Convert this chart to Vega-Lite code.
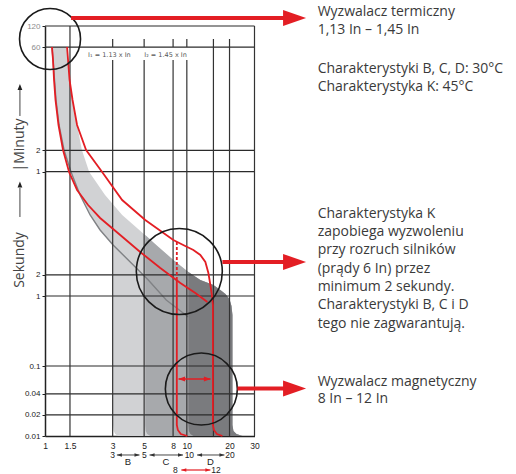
{
  "$schema": "https://vega.github.io/schema/vega-lite/v6.json",
  "width": 471,
  "height": 410,
  "autosize": "none",
  "padding": {"left": 45, "top": 26, "right": 0, "bottom": 38},
  "background": "white",
  "config": {"view": {"stroke": null}, "font": "Open Sans"},
  "datasets": {
    "mass": [
      {"t": 3608, "v": 1.12, "v2": 1.431},
      {"t": 2353, "v": 1.139, "v2": 1.454},
      {"t": 1219, "v": 1.167, "v2": 1.502},
      {"t": 631.2, "v": 1.196, "v2": 1.564},
      {"t": 277.3, "v": 1.256, "v2": 1.683},
      {"t": 121.9, "v": 1.362, "v2": 1.82},
      {"t": 59.1, "v": 1.526, "v2": 2.05},
      {"t": 27.7, "v": 1.767, "v2": 2.65},
      {"t": 14.36, "v": 2.08, "v2": 3.5},
      {"t": 8.77, "v": 2.447, "v2": 4.62},
      {"t": 5.355, "v": 3.02, "v2": 6.08},
      {"t": 3.268, "v": 3.02, "v2": 8.03},
      {"t": 2.203, "v": 3.02, "v2": 10.25},
      {"t": 1.693, "v": 3.02, "v2": 12.45},
      {"t": 1.436, "v": 3.02, "v2": 15.39},
      {"t": 1.219, "v": 3.02, "v2": 17.23},
      {"t": 1.068, "v": 3.02, "v2": 18.71},
      {"t": 0.906, "v": 3.02, "v2": 19.96},
      {"t": 0.72, "v": 3.02, "v2": 20.64},
      {"t": 0.5355, "v": 3.02, "v2": 20.97},
      {"t": 0.01437, "v": 3.02, "v2": 20.97},
      {"t": 0.01179, "v": 3.049, "v2": 21.31},
      {"t": 0.01068, "v": 3.124, "v2": 22.38},
      {"t": 0.01, "v": 3.28, "v2": 24.67}
    ],
    "regC": [
      {"t": 7.44, "v": 5.09, "v2": 5.09},
      {"t": 5.355, "v": 5.09, "v2": 6.08},
      {"t": 3.268, "v": 5.09, "v2": 8.03},
      {"t": 2.203, "v": 5.09, "v2": 10.25},
      {"t": 1.693, "v": 5.09, "v2": 12.45},
      {"t": 1.436, "v": 5.09, "v2": 15.39},
      {"t": 1.219, "v": 5.09, "v2": 17.23},
      {"t": 1.068, "v": 5.09, "v2": 18.71},
      {"t": 0.906, "v": 5.09, "v2": 19.96},
      {"t": 0.72, "v": 5.09, "v2": 20.64},
      {"t": 0.5355, "v": 5.09, "v2": 20.97},
      {"t": 0.01437, "v": 5.09, "v2": 20.97},
      {"t": 0.01179, "v": 5.13, "v2": 21.31},
      {"t": 0.01068, "v": 5.26, "v2": 22.38},
      {"t": 0.01, "v": 5.52, "v2": 24.67}
    ],
    "regD": [
      {"t": 2.203, "v": 10.25, "v2": 10.25},
      {"t": 1.693, "v": 10.25, "v2": 12.45},
      {"t": 1.436, "v": 10.25, "v2": 15.39},
      {"t": 1.219, "v": 10.25, "v2": 17.23},
      {"t": 1.068, "v": 10.25, "v2": 18.71},
      {"t": 0.906, "v": 10.25, "v2": 19.96},
      {"t": 0.72, "v": 10.25, "v2": 20.64},
      {"t": 0.5355, "v": 10.25, "v2": 20.97},
      {"t": 0.01437, "v": 10.25, "v2": 20.97},
      {"t": 0.01179, "v": 10.33, "v2": 21.31},
      {"t": 0.01068, "v": 10.59, "v2": 22.38},
      {"t": 0.01, "v": 11.12, "v2": 24.67}
    ],
    "stroke": [
      {"t": 3608, "v": 1.12}, {"t": 2353, "v": 1.139}, {"t": 1219, "v": 1.167},
      {"t": 631.2, "v": 1.196}, {"t": 277.3, "v": 1.256}, {"t": 121.9, "v": 1.362},
      {"t": 59.1, "v": 1.526}, {"t": 27.7, "v": 1.767}, {"t": 14.36, "v": 2.08},
      {"t": 8.77, "v": 2.447}, {"t": 5.355, "v": 3.02}, {"t": 3.06, "v": 3.99},
      {"t": 1.693, "v": 5.35}, {"t": 0.877, "v": 7.16}, {"t": 0.5012, "v": 10.25}
    ],
    "hgrid": [
      {"t": 7200, "v": 1, "v2": 30}, {"t": 3600, "v": 1, "v2": 30},
      {"t": 120, "v": 1, "v2": 30}, {"t": 60, "v": 1, "v2": 30},
      {"t": 2, "v": 1, "v2": 30}, {"t": 1, "v": 1, "v2": 30},
      {"t": 0.1, "v": 1, "v2": 30}, {"t": 0.04, "v": 1, "v2": 30},
      {"t": 0.02, "v": 1, "v2": 30}
    ],
    "vgrid": [
      {"v": 1.5, "t": 7200, "t2": 0.01},
      {"v": 3, "t": 4694, "t2": 3600}, {"v": 3, "t": 2353, "t2": 0.01},
      {"v": 5, "t": 4694, "t2": 3600}, {"v": 5, "t": 2353, "t2": 0.01},
      {"v": 8, "t": 4694, "t2": 3600}, {"v": 8, "t": 2353, "t2": 0.01},
      {"v": 10, "t": 4694, "t2": 3600}, {"v": 10, "t": 2353, "t2": 0.01},
      {"v": 15.4, "t": 4694, "t2": 0.01},
      {"v": 20, "t": 4694, "t2": 0.01},
      {"v": 30, "t": 7200, "t2": 0.01}
    ],
    "ilabels": [
      {"v": 2.013, "t": 2597, "label": "I₁ = 1.13 x In"},
      {"v": 5.01, "t": 2597, "label": "I₂ = 1.45 x In"}
    ],
    "kLow": [
      {"t": 3608, "v": 1.12}, {"t": 2353, "v": 1.139}, {"t": 1219, "v": 1.158},
      {"t": 631.2, "v": 1.186}, {"t": 277.3, "v": 1.245}, {"t": 121.9, "v": 1.34},
      {"t": 59.1, "v": 1.478}, {"t": 32.7, "v": 1.683}, {"t": 19.96, "v": 2.013},
      {"t": 13.02, "v": 2.447}, {"t": 7.44, "v": 3.39}, {"t": 4.254, "v": 4.69},
      {"t": 2.513, "v": 6.5}, {"t": 1.534, "v": 9.0}, {"t": 1.104, "v": 11.48},
      {"t": 0.821, "v": 13.96}
    ],
    "kUp": [
      {"i": 1, "t": 3608, "v": 1.431}, {"i": 2, "t": 2353, "v": 1.454},
      {"i": 3, "t": 1219, "v": 1.49}, {"i": 4, "t": 631.2, "v": 1.564},
      {"i": 5, "t": 277.3, "v": 1.683}, {"i": 6, "t": 121.9, "v": 1.949},
      {"i": 7, "t": 59.1, "v": 2.528}, {"i": 8, "t": 23.5, "v": 3.5},
      {"i": 9, "t": 12.19, "v": 5.09}, {"i": 10, "t": 6.31, "v": 8.03},
      {"i": 11, "t": 5.18, "v": 9.74}, {"i": 12, "t": 4.544, "v": 11.12},
      {"i": 13, "t": 3.854, "v": 12.45}, {"i": 14, "t": 3.06, "v": 13.51},
      {"i": 15, "t": 2.132, "v": 14.19}, {"i": 16, "t": 1.436, "v": 14.66},
      {"i": 17, "t": 1.034, "v": 15.02}, {"i": 18, "t": 0.744, "v": 15.27},
      {"i": 19, "t": 0.01437, "v": 15.27}, {"i": 20, "t": 0.01219, "v": 15.52},
      {"i": 21, "t": 0.01068, "v": 16.29}, {"i": 22, "t": 0.01, "v": 17.82}
    ],
    "kVert": [
      {"i": 1, "t": 1.693, "v": 8.5}, {"i": 2, "t": 0.01437, "v": 8.5},
      {"i": 3, "t": 0.01219, "v": 8.64}, {"i": 4, "t": 0.01068, "v": 9.07},
      {"i": 5, "t": 0.01, "v": 10.08}
    ],
    "kDash": [{"v": 8.5, "t": 5.91, "t2": 1.693}],
    "connectors": [
      {"v": 1.527, "v2": 48.9, "t": 9367},
      {"v": 17.82, "v2": 48.9, "t": 3.06},
      {"v": 22.75, "v2": 48.9, "t": 0.0477}
    ],
    "bigHeads": [
      {"v": 57.5, "t": 9367, "dir": "R"},
      {"v": 57.5, "t": 3.06, "dir": "R"},
      {"v": 57.5, "t": 0.0477, "dir": "R"}
    ],
    "magArrow": [{"v": 8.75, "v2": 14.66, "t": 0.0652}],
    "magHeads": [
      {"v": 9.19, "t": 0.0652, "dir": "L"},
      {"v": 13.96, "t": 0.0652, "dir": "R"}
    ],
    "notes": [
      {"v": 83.6, "t": 10004, "label": "Wyzwalacz termiczny"},
      {"v": 83.6, "t": 5534, "label": "1,13 In – 1,45 In"},
      {"v": 83.6, "t": 1534, "label": "Charakterystyki B, C, D: 30°C"},
      {"v": 83.6, "t": 848.7, "label": "Charakterystyka K: 45°C"},
      {"v": 83.6, "t": 13.14, "label": "Charakterystyka K"},
      {"v": 83.6, "t": 7.2, "label": "zapobiega wyzwoleniu"},
      {"v": 83.6, "t": 3.917, "label": "przy rozruch silników"},
      {"v": 83.6, "t": 2.132, "label": "(prądy 6 In) przez"},
      {"v": 83.6, "t": 1.179, "label": "minimum 2 sekundy."},
      {"v": 83.6, "t": 0.642, "label": "Charakterystyki B, C i D"},
      {"v": 83.6, "t": 0.349, "label": "tego nie zagwarantują."},
      {"v": 83.6, "t": 0.0518, "label": "Wyzwalacz magnetyczny"},
      {"v": 83.6, "t": 0.0293, "label": "8 In – 12 In"}
    ],
    "rowNums": [
      {"v": 3.0, "t": 0.005355, "label": "3"},
      {"v": 5.01, "t": 0.005355, "label": "5"},
      {"v": 10.42, "t": 0.005355, "label": "10"},
      {"v": 20.13, "t": 0.005355, "label": "20"},
      {"v": 8.29, "t": 0.003268, "label": "8"},
      {"v": 16.03, "t": 0.003268, "label": "12"}
    ],
    "rowLetters": [
      {"v": 3.842, "t": 0.004254, "label": "B"},
      {"v": 7.13, "t": 0.004254, "label": "C"},
      {"v": 14.66, "t": 0.004254, "label": "D"}
    ],
    "rowRules": [
      {"v": 3.212, "v2": 4.638, "t": 0.005355},
      {"v": 5.459, "v2": 9.4, "t": 0.005355},
      {"v": 11.81, "v2": 18.41, "t": 0.005355}
    ],
    "rowHeads": [
      {"v": 3.345, "t": 0.005355, "dir": "L"}, {"v": 4.455, "t": 0.005355, "dir": "R"},
      {"v": 5.686, "t": 0.005355, "dir": "L"}, {"v": 9.026, "t": 0.005355, "dir": "R"},
      {"v": 12.3, "t": 0.005355, "dir": "L"}, {"v": 17.68, "t": 0.005355, "dir": "R"}
    ],
    "redRow": [{"v": 9.15, "v2": 14.66, "t": 0.003268}],
    "redRowHeads": [
      {"v": 9.524, "t": 0.003268, "dir": "L"},
      {"v": 14.07, "t": 0.003268, "dir": "R"}
    ],
    "sideTitles": [
      {"v": 0.6656, "t": 3.268, "label": "Sekundy"},
      {"v": 0.6656, "t": 143.7, "label": "|Minuty"}
    ],
    "sideRules": [
      {"v": 0.6656, "t": 13.45, "t2": 34.9},
      {"v": 0.6656, "t": 372.9, "t2": 877}
    ],
    "sideHeads": [
      {"v": 0.6656, "t": 39.17, "dir": "U"},
      {"v": 0.6656, "t": 967.9, "dir": "U"}
    ]
  },
  "encoding": {
    "x": {
      "field": "v", "type": "quantitative",
      "scale": {"type": "log", "domain": [1, 30], "range": [0, 209.5], "nice": false},
      "axis": {
        "values": [1, 1.5, 3, 5, 8, 10, 20, 30], "title": null, "grid": false, "ticks": false,
        "labelExpr": "format(datum.value, '~g')", "labelFont": "Liberation Sans", "labelFontSize": 8.5,
        "labelColor": "#222", "labelPadding": 5, "labelFlush": false, "labelOverlap": false, "labelBound": false,
        "domainColor": "#222", "domainWidth": 1.5
      }
    },
    "y": {
      "field": "t", "type": "quantitative",
      "scale": {"type": "log", "domain": [0.01, 7200], "nice": false},
      "axis": {
        "values": [7200, 3600, 120, 60, 2, 1, 0.1, 0.04, 0.02, 0.01], "title": null, "grid": false,
        "labelExpr": "datum.value == 7200 ? '120' : datum.value == 3600 ? '60' : datum.value == 120 ? '2' : datum.value == 60 ? '1' : datum.value == 2 ? '2' : datum.value == 1 ? '1' : datum.value == 0.1 ? '0.1' : datum.value == 0.04 ? '0.04' : datum.value == 0.02 ? '0.02' : '0.01'",
        "labelFont": "Liberation Sans", "labelFontSize": 8,
        "labelColor": {"condition": {"test": "datum.value > 1000", "value": "#8c8c8c"}, "value": "#222"},
        "labelOverlap": false, "labelBound": false, "labelPadding": 2,
        "tickSize": 3, "tickColor": "#222", "domainColor": "#222", "domainWidth": 1.5
      }
    }
  },
  "layer": [
    {"data": {"name": "mass"}, "mark": {"type": "area", "orient": "horizontal", "color": "#d1d2d4"}, "encoding": {"x2": {"field": "v2"}}},
    {"data": {"name": "regC"}, "mark": {"type": "area", "orient": "horizontal", "color": "#a7a9ac"}, "encoding": {"x2": {"field": "v2"}}},
    {"data": {"name": "regD"}, "mark": {"type": "area", "orient": "horizontal", "color": "#7a7b7e"}, "encoding": {"x2": {"field": "v2"}}},
    {"data": {"name": "stroke"}, "mark": {"type": "line", "color": "#808285", "strokeWidth": 1.4}, "encoding": {}},
    {"data": {"name": "hgrid"}, "mark": {"type": "rule", "color": "#2b2b2b", "strokeWidth": 1.2}, "encoding": {"x2": {"field": "v2"}}},
    {"data": {"name": "vgrid"}, "mark": {"type": "rule", "color": "#333333", "strokeWidth": 1.2}, "encoding": {"y2": {"field": "t2"}}},
    {"data": {"name": "ilabels"}, "mark": {"type": "text", "align": "left", "baseline": "alphabetic", "font": "DejaVu Sans", "fontSize": 6.5, "color": "#555555"}, "encoding": {"text": {"field": "label"}}},
    {"data": {"name": "kLow"}, "mark": {"type": "line", "color": "#e31e24", "strokeWidth": 1.8}, "encoding": {}},
    {"data": {"name": "kUp"}, "mark": {"type": "line", "color": "#e31e24", "strokeWidth": 1.8}, "encoding": {"order": {"field": "i", "type": "quantitative"}}},
    {"data": {"name": "kVert"}, "mark": {"type": "line", "color": "#e31e24", "strokeWidth": 1.8}, "encoding": {"order": {"field": "i", "type": "quantitative"}}},
    {"data": {"name": "kDash"}, "mark": {"type": "rule", "color": "#e31e24", "strokeWidth": 1.8, "strokeDash": [3, 2]}, "encoding": {"y2": {"field": "t2"}}},
    {"data": {"values": [{"v": 1.085, "t": 4694}]}, "mark": {"type": "point", "shape": "circle", "size": 3721, "filled": false, "stroke": "#1a1a1a", "strokeWidth": 1.6, "opacity": 1}, "encoding": {}},
    {"data": {"values": [{"v": 8.85, "t": 2.24}]}, "mark": {"type": "point", "shape": "circle", "size": 7396, "filled": false, "stroke": "#1a1a1a", "strokeWidth": 1.6, "opacity": 1}, "encoding": {}},
    {"data": {"values": [{"v": 12.66, "t": 0.0469}]}, "mark": {"type": "point", "shape": "circle", "size": 5184, "filled": false, "stroke": "#1a1a1a", "strokeWidth": 1.6, "opacity": 1}, "encoding": {}},
    {"data": {"name": "connectors"}, "mark": {"type": "rule", "color": "#e31e24", "strokeWidth": 4}, "encoding": {"x2": {"field": "v2"}}},
    {"data": {"name": "bigHeads"}, "mark": {"type": "point", "filled": true, "size": 529, "color": "#e31e24", "opacity": 1},
     "encoding": {"shape": {"field": "dir", "type": "nominal", "scale": {"domain": ["L", "R", "U"], "range": ["M1,-0.7L-1,0L1,0.7Z", "M-1,-0.7L1,0L-1,0.7Z", "M-0.8,1L0,-1L0.8,1Z"]}, "legend": null}}},
    {"data": {"name": "magArrow"}, "mark": {"type": "rule", "color": "#e31e24", "strokeWidth": 1.5}, "encoding": {"x2": {"field": "v2"}}},
    {"data": {"name": "magHeads"}, "mark": {"type": "point", "filled": true, "size": 49, "color": "#e31e24", "opacity": 1},
     "encoding": {"shape": {"field": "dir", "type": "nominal", "scale": {"domain": ["L", "R", "U"], "range": ["M1,-0.7L-1,0L1,0.7Z", "M-1,-0.7L1,0L-1,0.7Z", "M-0.8,1L0,-1L0.8,1Z"]}, "legend": null}}},
    {"data": {"name": "notes"}, "mark": {"type": "text", "align": "left", "baseline": "alphabetic", "font": "Open Sans", "fontSize": 14, "color": "#3a3a3a"}, "encoding": {"text": {"field": "label"}}},
    {"data": {"name": "rowRules"}, "mark": {"type": "rule", "color": "#333333", "strokeWidth": 0.9}, "encoding": {"x2": {"field": "v2"}}},
    {"data": {"name": "rowHeads"}, "mark": {"type": "point", "filled": true, "size": 25, "color": "#333333", "opacity": 1},
     "encoding": {"shape": {"field": "dir", "type": "nominal", "scale": {"domain": ["L", "R", "U"], "range": ["M1,-0.7L-1,0L1,0.7Z", "M-1,-0.7L1,0L-1,0.7Z", "M-0.8,1L0,-1L0.8,1Z"]}, "legend": null}}},
    {"data": {"name": "redRow"}, "mark": {"type": "rule", "color": "#e31e24", "strokeWidth": 1.2}, "encoding": {"x2": {"field": "v2"}}},
    {"data": {"name": "redRowHeads"}, "mark": {"type": "point", "filled": true, "size": 25, "color": "#e31e24", "opacity": 1},
     "encoding": {"shape": {"field": "dir", "type": "nominal", "scale": {"domain": ["L", "R", "U"], "range": ["M1,-0.7L-1,0L1,0.7Z", "M-1,-0.7L1,0L-1,0.7Z", "M-0.8,1L0,-1L0.8,1Z"]}, "legend": null}}},
    {"data": {"name": "rowNums"}, "mark": {"type": "text", "align": "center", "baseline": "middle", "font": "Liberation Sans", "fontSize": 8.5, "color": "#222"}, "encoding": {"text": {"field": "label"}}},
    {"data": {"name": "rowLetters"}, "mark": {"type": "text", "align": "center", "baseline": "middle", "font": "Liberation Sans", "fontSize": 9.5, "color": "#222"}, "encoding": {"text": {"field": "label"}}},
    {"data": {"name": "sideTitles"}, "mark": {"type": "text", "align": "center", "baseline": "middle", "angle": 270, "font": "Open Sans", "fontSize": 14, "color": "#444"}, "encoding": {"text": {"field": "label"}}},
    {"data": {"name": "sideRules"}, "mark": {"type": "rule", "color": "#444", "strokeWidth": 1}, "encoding": {"y2": {"field": "t2"}}},
    {"data": {"name": "sideHeads"}, "mark": {"type": "point", "filled": true, "size": 36, "color": "#222", "opacity": 1},
     "encoding": {"shape": {"field": "dir", "type": "nominal", "scale": {"domain": ["L", "R", "U"], "range": ["M1,-0.7L-1,0L1,0.7Z", "M-1,-0.7L1,0L-1,0.7Z", "M-0.8,1L0,-1L0.8,1Z"]}, "legend": null}}}
  ]
}
